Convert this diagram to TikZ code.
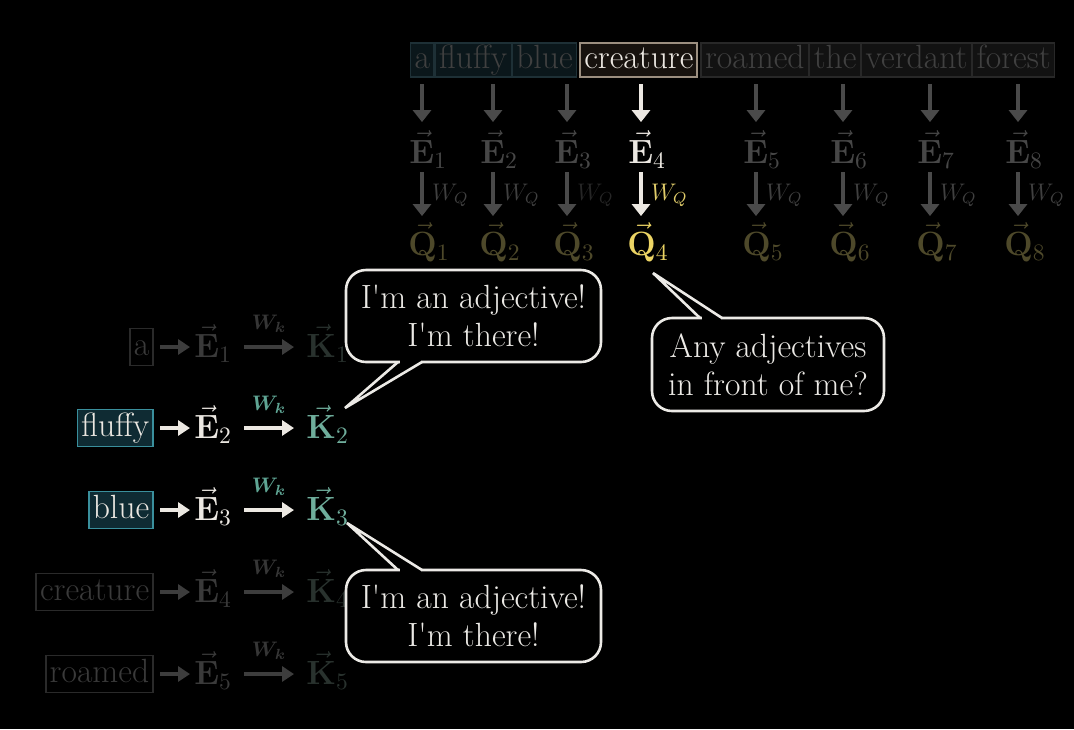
\RequirePackage{fix-cm}
\documentclass[tikz,border=0pt]{standalone}
\usetikzlibrary{arrows.meta}
\definecolor{dimtxt}{HTML}{404040}
\definecolor{dimarr}{HTML}{4A4A4A}
\definecolor{dimE}{HTML}{474747}
\definecolor{dimW}{HTML}{404040}
\definecolor{fadeW}{HTML}{262626}
\definecolor{dimQ}{HTML}{4E492A}
\definecolor{brQ}{HTML}{ECD464}
\definecolor{brW}{HTML}{E0CC6A}
\definecolor{bright}{HTML}{ECE8E2}
\definecolor{tealfill}{HTML}{0B171B}
\definecolor{tealline}{HTML}{1E3036}
\definecolor{grayfill}{HTML}{121212}
\definecolor{grayline}{HTML}{282828}
\definecolor{crline}{HTML}{9C8F80}
\definecolor{crfill}{HTML}{17120E}
\definecolor{actline}{HTML}{3A8F9C}
\definecolor{actfill}{HTML}{0F2B33}
\definecolor{Kcol}{HTML}{6FAE9C}
\definecolor{Wkcol}{HTML}{5FA594}
\definecolor{ldimarr}{HTML}{3D3D3D}
\definecolor{ldimE}{HTML}{3A3A3A}
\definecolor{ldimK}{HTML}{29322E}
\definecolor{ldimW}{HTML}{363636}
\definecolor{ldimbox}{HTML}{2A2A2A}
\definecolor{ldimtxt}{HTML}{3A3A3A}
\definecolor{bubline}{HTML}{ECEAE6}
\newcommand\vv[1]{\vec{\mathbf{#1}}}
\begin{document}
\begin{tikzpicture}[x=0.5pt,y=-0.5pt,
  every node/.style={font=\fontsize{16.8}{19}\selectfont},
  tw/.style={draw=grayline, fill=grayfill, text=dimtxt, line width=0.6pt,
    inner xsep=2pt, inner ysep=0.6pt, text height=12pt, text depth=3.8pt, anchor=west},
  twt/.style={tw, draw=tealline, fill=tealfill},
  lw/.style={line width=0.8pt, inner xsep=2pt, inner ysep=1.35pt,
    text height=12pt, text depth=3.8pt, anchor=east},
  lwdim/.style={lw, draw=ldimbox, fill=black, text=ldimtxt},
  lwact/.style={lw, draw=actline, fill=actfill, text=bright},
  vlab/.style={inner sep=0pt, anchor=base west},
  varr/.style={line width=2pt, -{Triangle[length=6pt,width=9pt]}},
  harr/.style={line width=2pt, -{Triangle[length=6pt,width=7.5pt]}},
  wq/.style={inner sep=0pt, anchor=west, font=\fontsize{12}{13}\selectfont},
  wk/.style={inner sep=0pt, font=\fontsize{10.5}{11}\selectfont\boldmath},
  bubble/.style={draw=bubline, fill=black, line width=1.3pt, rounded corners=10pt,
    text=bubline, align=center, inner sep=0pt},
  tail/.style={draw=bubline, line width=1.3pt, line join=miter}
]
\useasboundingbox (0,0) rectangle (1074,729);
\fill[black] (0,0) rectangle (1074,729);

% ---------- top row of words ----------
\node[twt] (w1) at (410,60) {a};
\node[twt] (w2) at (w1.east) {fluffy};
\node[twt] (w3) at (w2.east) {blue};
\node[tw, draw=crline, fill=crfill, text=bright, line width=1pt] (w4) at ([xshift=1pt]w3.east) {creature};
\node[tw] (w5) at ([xshift=1pt]w4.east) {roamed};
\node[tw] (w6) at (w5.east) {the};
\node[tw] (w7) at (w6.east) {verdant};
\node[tw] (w8) at (w7.east) {forest};

% ---------- dim columns ----------
\foreach \i/\x/\wc in {1/422/dimW,2/493/dimW,3/567/fadeW,5/756/dimW,6/843/dimW,7/930/dimW,8/1018/dimW}{
  \coordinate (t\i) at (\x,84);
  \node[vlab, text=dimE] (E\i) at (\x-13,163) {$\vv{E}_\i$};
  \node[vlab, text=dimQ] (Q\i) at (\x-14,255) {$\vv{Q}_\i$};
  \draw[varr, draw=dimarr, shorten >=4pt] (t\i) -- (t\i |- E\i.north);
  \draw[varr, draw=dimarr, shorten <=2pt, shorten >=3pt] (t\i |- E\i.south) -- (t\i |- Q\i.north)
    node[wq, midway, right=4pt, text=\wc] (wq\i) {$W_Q$};
}
% ---------- highlighted column ----------
\coordinate (t4) at (641,84);
\node[vlab, text=bright] (E4) at (628,163) {$\vv{E}_4$};
\node[vlab, text=brQ] (Q4) at (627,255) {$\vv{Q}_4$};
\draw[varr, draw=bright, shorten >=4pt] (t4) -- (t4 |- E4.north);
\draw[varr, draw=bright, shorten <=2pt, shorten >=3pt] (t4 |- E4.south) -- (t4 |- Q4.north)
  node[wq, midway, right=4pt, text=brW] (wq4) {$W_Q$};

% ---------- left rows ----------
\node[lwdim] (L1) at (154,347) {a};
\node[vlab, text=ldimE] (LE1) at (194,357) {$\vv{E}_1$};
\node[vlab, text=ldimK] (LK1) at (306,357) {$\vv{K}_1$};
\draw[harr, draw=ldimarr, shorten <=3pt, shorten >=2pt] (L1.east) -- (LE1.west |- L1.east);
\draw[harr, draw=ldimarr, shorten <=6pt, shorten >=6pt] (LE1.east |- L1.east) -- (LK1.west |- L1.east);
\node[wk, text=ldimW] (wk1) at (269,324) {$W_k$};

\node[lwact] (L2) at (154,428) {fluffy};
\node[vlab, text=bright] (LE2) at (194,438) {$\vv{E}_2$};
\node[vlab, text=Kcol] (LK2) at (306,438) {$\vv{K}_2$};
\draw[harr, draw=bright, shorten <=3pt, shorten >=2pt] (L2.east) -- (LE2.west |- L2.east);
\draw[harr, draw=bright, shorten <=6pt, shorten >=6pt] (LE2.east |- L2.east) -- (LK2.west |- L2.east);
\node[wk, text=Wkcol] (wk2) at (269,405) {$W_k$};

\node[lwact] (L3) at (154,510) {blue};
\node[vlab, text=bright] (LE3) at (194,520) {$\vv{E}_3$};
\node[vlab, text=Kcol] (LK3) at (306,520) {$\vv{K}_3$};
\draw[harr, draw=bright, shorten <=3pt, shorten >=2pt] (L3.east) -- (LE3.west |- L3.east);
\draw[harr, draw=bright, shorten <=6pt, shorten >=6pt] (LE3.east |- L3.east) -- (LK3.west |- L3.east);
\node[wk, text=Wkcol] (wk3) at (269,487) {$W_k$};

\node[lwdim] (L4) at (154,592) {creature};
\node[vlab, text=ldimE] (LE4) at (194,602) {$\vv{E}_4$};
\node[vlab, text=ldimK] (LK4) at (306,602) {$\vv{K}_4$};
\draw[harr, draw=ldimarr, shorten <=3pt, shorten >=2pt] (L4.east) -- (LE4.west |- L4.east);
\draw[harr, draw=ldimarr, shorten <=6pt, shorten >=6pt] (LE4.east |- L4.east) -- (LK4.west |- L4.east);
\node[wk, text=ldimW] (wk4) at (269,569) {$W_k$};

\node[lwdim] (L5) at (154,674) {roamed};
\node[vlab, text=ldimE] (LE5) at (194,684) {$\vv{E}_5$};
\node[vlab, text=ldimK] (LK5) at (306,684) {$\vv{K}_5$};
\draw[harr, draw=ldimarr, shorten <=3pt, shorten >=2pt] (L5.east) -- (LE5.west |- L5.east);
\draw[harr, draw=ldimarr, shorten <=6pt, shorten >=6pt] (LE5.east |- L5.east) -- (LK5.west |- L5.east);
\node[wk, text=ldimW] (wk5) at (269,651) {$W_k$};

% ---------- speech bubbles ----------
\coordinate (tip1) at (345,408);
\coordinate (tip2) at (653,273);
\coordinate (tip3) at (347,523);

\node[bubble, minimum width=127.5pt, minimum height=46pt] (b1) at (473.5,316)
  {I\textquotesingle m an adjective!\\I\textquotesingle m there!};
\fill[black] (399.5,357) rectangle (420.5,366);
\draw[tail] (398,362) -- (tip1) -- (422,362);

\node[bubble, minimum width=116pt, minimum height=46.5pt] (b2) at (768,364.5)
  {Any adjectives\\in front of me?};
\fill[black] (701.5,314) rectangle (720.5,323);
\draw[tail] (700,318) -- (tip2) -- (722,318);

\node[bubble, minimum width=127.5pt, minimum height=46pt] (b3) at (473.5,616)
  {I\textquotesingle m an adjective!\\I\textquotesingle m there!};
\fill[black] (399.5,566) rectangle (420.5,575);
\draw[tail] (398,570) -- (tip3) -- (422,570);
\end{tikzpicture}
\end{document}
